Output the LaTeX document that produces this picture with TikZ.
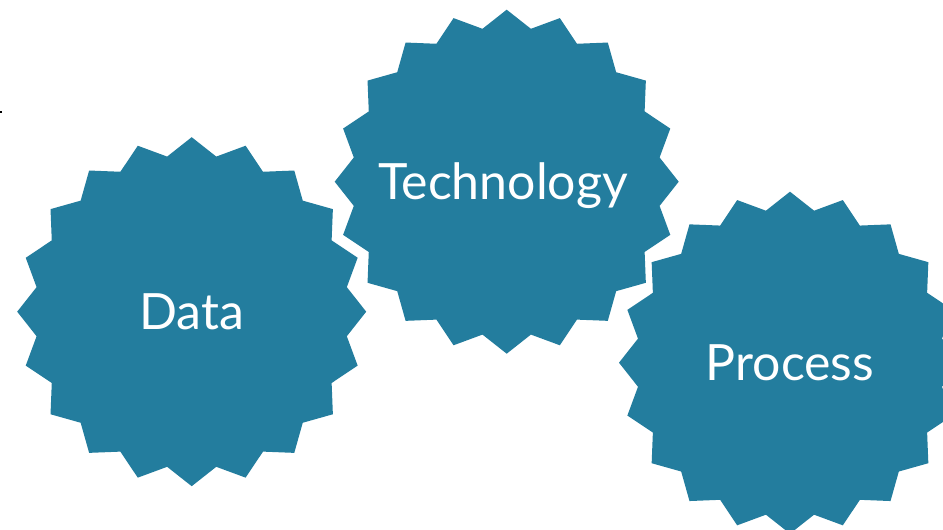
\documentclass[tikz,border=0pt]{standalone}
\usepackage{fontspec}
\setmainfont{Lato}
\definecolor{teal}{RGB}{35,125,158}
\tikzset{
  gearlabel/.style={text=white, font=\fontsize{50}{50}\selectfont, inner sep=0pt,
    text height=36pt, text depth=0pt},
  gearfill/.style={fill=teal, draw=none}
}
\newcommand{\gearshape}[3]{%
  \fill[gearfill, shift={(#1,#2)}] plot[samples at={0,...,39}]
    ({90+\x*9}:{#3*(1-0.1*mod(\x,2))}) -- cycle;}
\begin{document}
\begin{tikzpicture}[x=1pt,y=1pt]
\useasboundingbox (0,0) rectangle (943,530);
\fill[white] (0,0) rectangle (943,530);
\gearshape{191.7}{218.3}{174.5}
\gearshape{506.7}{348.3}{172}
\gearshape{790}{167.3}{171}
\node[gearlabel] (data) at (191.7,218.3) {Data};
\node[gearlabel] (tech) at (503,348.3) {Technology};
\node[gearlabel] (proc) at (790,167.3) {Process};
\fill[black] (0,416.5) rectangle (2,419);
\end{tikzpicture}
\end{document}
